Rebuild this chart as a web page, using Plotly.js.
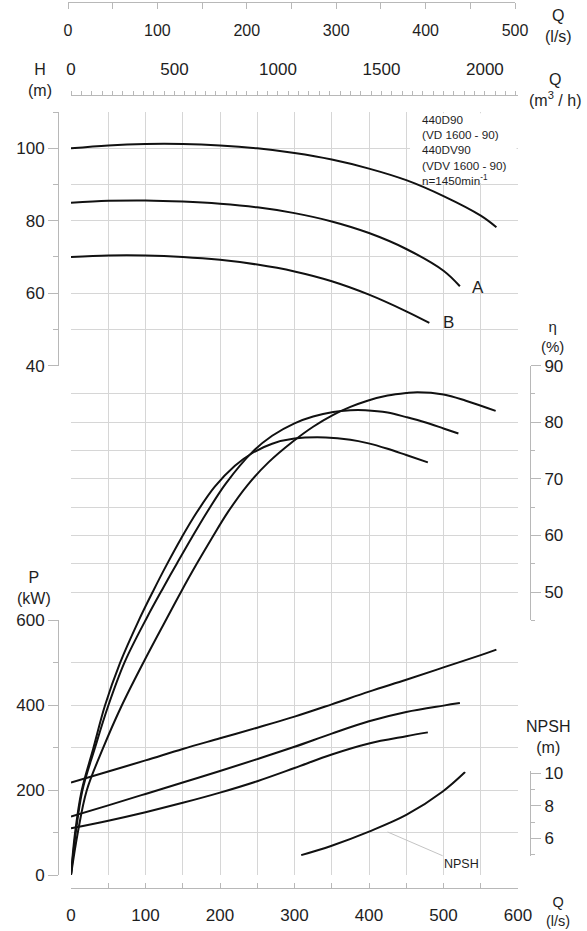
<!DOCTYPE html>
<html><head><meta charset="utf-8">
<script src="https://cdn.plot.ly/plotly-3.0.1.min.js"></script>
<style>html,body{margin:0;padding:0;background:#fff}#chart{width:587px;height:931px}</style>
</head><body><div id="chart"></div>
<script>
// ---------- data ----------
// Head H (m) vs Q (l/s)
const qHeadFull = [0, 50, 100, 150, 200, 250, 300, 350, 400, 450, 500, 550, 571];
const headFull  = [100, 100.8, 101.2, 101.2, 100.8, 100, 98.7, 96.9, 94.4, 91.2, 86.8, 81.4, 78.2];
const qHeadA = [0, 50, 100, 150, 200, 250, 300, 350, 400, 450, 500, 522];
const headA  = [85, 85.5, 85.6, 85.3, 84.7, 83.7, 82.1, 79.8, 76.6, 72.2, 66.2, 61.9];
const qHeadB = [0, 50, 100, 150, 200, 250, 300, 350, 400, 450, 481];
const headB  = [70, 70.4, 70.4, 70.0, 69.2, 67.9, 66.0, 63.3, 59.6, 55.0, 51.8];

// Efficiency eta (%) vs Q (l/s)
const qEffFull = [0, 9, 21, 43, 68, 97, 128, 148, 168, 189, 211, 237, 265, 297, 325, 352, 375, 398, 425, 450, 465, 500, 530, 570];
const effFull  = [0, 7.4, 14.9, 22.4, 29.9, 37.5, 45.2, 50.1, 54.8, 59.5, 64.2, 68.9, 72.9, 76.5, 79.2, 81.3, 82.7, 83.8, 84.7, 85.15, 85.3, 84.9, 83.8, 82.0];
const qEffA = [0, 6.3, 15.2, 32, 50, 72, 102, 124, 142, 163, 184, 208, 244, 270, 300, 325, 352, 375, 395, 425, 450, 475, 500, 520];
const effA  = [0, 7.4, 14.9, 22.4, 29.9, 37.6, 45.5, 50.8, 55.0, 59.8, 64.4, 69.2, 74.8, 77.6, 79.8, 81.0, 81.8, 82.1, 82.1, 81.7, 80.9, 80.0, 78.9, 78.0];
const qEffB = [0, 5.4, 14.3, 30, 45.5, 65.6, 91, 110, 128, 148, 168, 193, 220, 244, 270, 300, 342, 375, 398, 425, 450, 479];
const effB  = [0, 7.4, 14.9, 22.4, 29.9, 37.4, 45.0, 50.1, 54.7, 59.5, 63.9, 68.6, 72.3, 74.6, 76.2, 77.1, 77.3, 76.9, 76.3, 75.3, 74.2, 72.9];

// Power P (kW) vs Q (l/s)
const qPowFull = [0, 50, 100, 150, 200, 250, 300, 350, 400, 450, 500, 550, 571];
const powFull  = [218, 244, 270, 297, 322, 347, 373, 402, 432, 460, 489, 518, 531];
const qPowA = [0, 50, 100, 150, 200, 250, 300, 350, 400, 450, 500, 522];
const powA  = [138, 164, 191, 218, 245, 273, 302, 333, 362, 384, 399, 405];
const qPowB = [0, 50, 100, 150, 200, 250, 300, 350, 400, 450, 479];
const powB  = [110, 128, 148, 170, 194, 221, 252, 284, 310, 327, 336];

// NPSH (m) vs Q (l/s)
const qNpsh = [309, 349, 400, 450, 499, 529];
const npsh  = [4.97, 5.53, 6.41, 7.43, 8.87, 10.06];

// tick values
const headTicks = [40, 60, 80, 100];
const effTicks  = [50, 60, 70, 80, 90];
const powTicks  = [0, 200, 400, 600];
const npshTicks = [6, 8, 10];

// ---------- layout helpers ----------
const W = 587, Ht = 931;
const px = v => v / W;
const py = v => 1 - v / Ht;
const FONT = 'Liberation Sans, Arial, sans-serif';
const TXT = '#1e1e1e';
const AX = '#b8b8b8';
const GR = '#d6d6d6';
const tf = {family: FONT, size: 17, color: TXT};

function curve(q, v, xa, ya) {
  return {type: 'scatter', mode: 'lines', x: q, y: v, xaxis: xa, yaxis: ya,
    line: {color: '#111', width: 2, shape: 'spline', smoothing: 1},
    hoverinfo: 'skip', showlegend: false};
}
function holder(xa, ya) {
  return {type: 'scatter', mode: 'lines', x: [null], y: [null], xaxis: xa, yaxis: ya,
    hoverinfo: 'skip', showlegend: false};
}

const data = [
  curve(qPowFull, powFull, 'x', 'y'),
  curve(qPowA, powA, 'x', 'y'),
  curve(qPowB, powB, 'x', 'y'),
  curve(qHeadFull, headFull, 'x', 'y2'),
  curve(qHeadA, headA, 'x', 'y2'),
  curve(qHeadB, headB, 'x', 'y2'),
  holder('x', 'y3'),
  holder('x2', 'y'),
  holder('x3', 'y6'),
  curve(qNpsh, npsh, 'x4', 'y4'),
  curve(qEffFull, effFull, 'x4', 'y5'),
  curve(qEffA, effA, 'x4', 'y5'),
  curve(qEffB, effB, 'x4', 'y5')
];

function ann(x, y, text, size, extra) {
  return Object.assign({xref: 'paper', yref: 'paper', x: px(x), y: py(y), text: text,
    showarrow: false, xanchor: 'center', yanchor: 'middle',
    font: {family: FONT, size: size || 16, color: TXT}}, extra || {});
}

const layout = {
  width: W, height: Ht,
  margin: {l: 0, r: 0, t: 0, b: 0},
  paper_bgcolor: '#fff', plot_bgcolor: 'rgba(0,0,0,0)',
  showlegend: false,
  xaxis: {
    domain: [px(71), px(518)], range: [0, 600], anchor: 'free', position: py(888), side: 'bottom',
    showline: true, linecolor: AX, linewidth: 1, ticks: 'inside', ticklen: 5, tickcolor: AX,
    tick0: 0, dtick: 100, showgrid: true, gridcolor: GR, gridwidth: 1, zeroline: false,
    minor: {dtick: 50, tick0: 0, ticks: 'inside', ticklen: 5, tickcolor: AX, showgrid: true, gridcolor: GR},
    tickfont: tf, ticklabelstandoff: 12, fixedrange: true
  },
  xaxis2: {
    overlaying: 'x', range: [0, 2160], anchor: 'free', position: py(95), side: 'top',
    showline: true, linecolor: AX, ticks: 'outside', ticklen: 4, tickcolor: AX,
    tick0: 0, dtick: 500, showgrid: false, zeroline: false,
    minor: {dtick: 50, tick0: 0, ticks: 'outside', ticklen: 4, tickcolor: AX, showgrid: false},
    tickfont: tf, ticklabelstandoff: 9, fixedrange: true
  },
  xaxis3: {
    domain: [px(68), px(515)], range: [0, 500], anchor: 'free', position: py(2), side: 'bottom',
    showline: true, linecolor: AX, ticks: 'outside', ticklen: 6, tickcolor: AX,
    tick0: 0, dtick: 100, showgrid: false, zeroline: false,
    minor: {dtick: 50, tick0: 0, ticks: 'outside', ticklen: 6, tickcolor: AX, showgrid: false},
    tickfont: {family: FONT, size: 16, color: TXT}, ticklabelstandoff: 8, fixedrange: true
  },
  xaxis4: {overlaying: 'x', range: [0, 600], visible: false, anchor: 'free', position: 0, fixedrange: true},
  // power
  yaxis: {
    domain: [py(875), py(620.3)], range: [0, 600], anchor: 'free', position: px(58), side: 'left',
    showline: true, linecolor: AX, ticks: 'outside', ticklen: 10, tickcolor: AX,
    tickmode: 'array', tickvals: powTicks, showgrid: true, gridcolor: GR, zeroline: false,
    minor: {dtick: 100, tick0: 0, ticks: 'outside', ticklen: 5, tickcolor: AX, showgrid: true, gridcolor: GR},
    tickfont: tf, fixedrange: true
  },
  // head
  yaxis2: {
    domain: [py(365.6), py(112.1)], range: [40, 110], anchor: 'free', position: px(58), side: 'left',
    showline: true, linecolor: AX, ticks: 'outside', ticklen: 10, tickcolor: AX,
    tickmode: 'array', tickvals: headTicks, showgrid: true, gridcolor: GR, zeroline: false,
    minor: {dtick: 10, tick0: 0, ticks: 'outside', ticklen: 5, tickcolor: AX, showgrid: true, gridcolor: GR},
    tickfont: tf, fixedrange: true
  },
  // efficiency display axis
  yaxis3: {
    domain: [py(620.3), py(365.6)], range: [45, 90], anchor: 'free', position: px(530), side: 'right',
    showline: true, linecolor: AX, ticks: 'outside', ticklen: 10, tickcolor: AX,
    tickmode: 'array', tickvals: effTicks, showgrid: true, gridcolor: GR, zeroline: false,
    minor: {dtick: 5, tick0: 0, ticks: 'outside', ticklen: 4, tickcolor: AX, showgrid: true, gridcolor: GR},
    tickfont: tf, fixedrange: true
  },
  // NPSH
  yaxis4: {
    domain: [py(856.3), py(771.4)], range: [4.9, 10.1], anchor: 'free', position: px(530), side: 'right',
    showline: true, linecolor: AX, ticks: 'outside', ticklen: 10, tickcolor: AX,
    tickmode: 'array', tickvals: npshTicks, showgrid: false, zeroline: false,
    minor: {dtick: 1, tick0: 0, ticks: 'outside', ticklen: 4, tickcolor: AX, showgrid: false},
    tickfont: tf, fixedrange: true
  },
  // efficiency data axis (full height, hidden)
  yaxis5: {domain: [py(875), py(365.6)], range: [0, 90], visible: false, anchor: 'x4', fixedrange: true},
  yaxis6: {domain: [0.99, 1], range: [0, 1], visible: false, anchor: 'x3', fixedrange: true},
  shapes: [
    {type: 'rect', xref: 'x', yref: 'y2', x0: 455, x1: 598, y0: 90.4, y1: 109.7,
     fillcolor: '#fff', line: {width: 0}, layer: 'between'}
  ]
};

const annotations = [
  ann(558, 25.5, 'Q<br>(l/s)', 16),
  ann(555, 90, 'Q<br>(m<sup>3</sup> / h)', 16),
  ann(40, 80, 'H<br>(m)', 16),
  ann(34, 587.5, 'P<br>(kW)', 16),
  ann(552, 336, 'η<br>(%)', 15),
  ann(548, 737, 'NPSH<br>(m)', 16),
  ann(558, 911.5, 'Q<br>(l/s)', 14.5),
  ann(420, 150.5, '440D90<br>(VD 1600 - 90)<br>440DV90<br>(VDV 1600 - 90)<br>n=1450min<sup>-1</sup>', 11.7,
      {xanchor: 'left', align: 'left'}),
  {xref: 'x', yref: 'y2', x: 546, y: 61.7, text: 'A', showarrow: false,
   font: {family: FONT, size: 17, color: TXT}},
  {xref: 'x', yref: 'y2', x: 507, y: 51.8, text: 'B', showarrow: false,
   font: {family: FONT, size: 17, color: TXT}},
  {xref: 'x', yref: 'y4', x: 425, y: 6.39, text: 'NPSH', showarrow: true,
   ax: 74, ay: 32, arrowhead: 0, arrowwidth: 1, arrowcolor: '#c4c4c4', standoff: 0,
   font: {family: FONT, size: 12.5, color: TXT}}
];

const gd = document.getElementById('chart');
Plotly.newPlot(gd, data, layout, {staticPlot: true, displayModeBar: false})
  .then(() => Plotly.relayout(gd, {annotations: annotations}));
</script></body></html>
